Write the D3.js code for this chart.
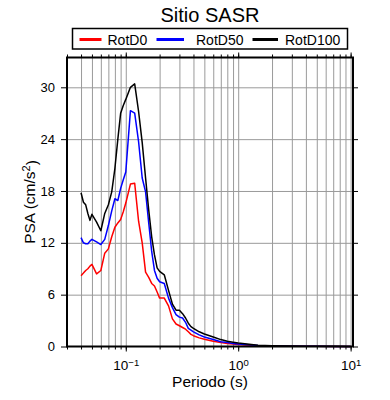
<!DOCTYPE html>
<html>
<head>
<meta charset="utf-8">
<script src="https://cdn.jsdelivr.net/npm/d3@7"></script>
<style>
  body { margin: 0; background: #fff; }
  svg { font-family: "Liberation Sans", Arial, Helvetica, sans-serif; }
</style>
</head>
<body>
<svg id="chart" width="390" height="400"></svg>
<script>
const periods = [0.04, 0.042, 0.044, 0.046, 0.048, 0.05, 0.055, 0.06, 0.065, 0.07, 0.075, 0.08,
  0.085, 0.09, 0.095, 0.1, 0.11, 0.12, 0.13, 0.14, 0.15, 0.16, 0.17, 0.18, 0.19, 0.2, 0.22,
  0.24, 0.26, 0.28, 0.3, 0.32, 0.34, 0.36, 0.38, 0.4, 0.45, 0.5, 0.6, 0.7, 0.8, 0.9, 1.0,
  1.5, 2, 3, 4, 5, 7.5, 10];

const rotD0 = [8.2, 8.5, 8.8, 9.0, 9.3, 9.5, 8.4, 8.8, 10.8, 11.3, 12.7, 13.8,
  14.3, 14.7, 15.6, 16.6, 18.8, 18.9, 14.5, 12.0, 8.6, 8.0, 7.3, 7.0, 6.3, 5.6, 5.6,
  4.7, 3.2, 2.6, 2.4, 2.2, 2.0, 1.7, 1.4, 1.25, 1.0, 0.85, 0.6, 0.45, 0.35, 0.28, 0.22,
  0.09, 0.05, 0.03, 0.02, 0.015, 0.01, 0.006];

const rotD50 = [12.6, 12.0, 11.9, 11.9, 12.2, 12.4, 12.1, 11.8, 12.4, 14.0, 15.7, 17.1,
  16.9, 18.3, 19.3, 20.2, 27.3, 27.0, 23.7, 19.5, 17.9, 14.3, 11.0, 8.8, 7.9, 7.5, 7.3,
  5.6, 4.5, 3.7, 3.4, 3.3, 2.8, 2.1, 1.9, 1.7, 1.35, 1.1, 0.8, 0.55, 0.45, 0.35, 0.3,
  0.12, 0.07, 0.04, 0.03, 0.02, 0.012, 0.008];

const rotD100 = [17.8, 16.7, 16.4, 15.4, 14.6, 15.3, 14.4, 13.4, 15.4, 16.4, 17.9, 20.6,
  24.0, 27.0, 27.9, 28.6, 30.0, 30.4, 27.2, 23.6, 19.5, 15.8, 12.7, 10.6, 9.1, 8.7, 8.3,
  6.5, 4.9, 4.2, 4.2, 3.8, 3.3, 2.7, 2.3, 2.1, 1.7, 1.45, 1.1, 0.8, 0.6, 0.5, 0.4,
  0.15, 0.09, 0.05, 0.03, 0.025, 0.015, 0.01];

const seriesNames = ['RotD0', 'RotD50', 'RotD100'];
const seriesColors = ['#ff0000', '#0000ff', '#000000'];
const yTicks = [0, 6, 12, 18, 24, 30];
const xMajor = [0.1, 1, 10];
const xExp = ['\u22121', '0', '1'];

const margin = { top: 57.5, right: 37, bottom: 53.5, left: 67 };
const width = 390;
const height = 400;
const innerW = width - margin.left - margin.right;
const innerH = height - margin.top - margin.bottom;

const svg = d3.select('#chart');
const g = svg.append('g').attr('transform', `translate(${margin.left},${margin.top})`);

const x = d3.scaleLog().domain([0.03, 10.5]).range([0, innerW]);
const y = d3.scaleLinear().domain([0, 33.45]).range([innerH, 0]);

// minor tick positions, every 1..9 per decade
const xMinor = [];
[0.01, 0.1, 1].forEach((dec) => {
  d3.range(1, 10).forEach((k) => {
    const v = +(dec * k).toPrecision(3);
    if (v >= 0.03 && v <= 10.5) xMinor.push(v);
  });
});
xMinor.push(10);

// grid
g.append('g')
  .attr('class', 'grid-x')
  .call(d3.axisBottom(x).tickValues(xMinor).tickSize(innerH).tickFormat(''))
  .call((s) => s.select('.domain').remove())
  .selectAll('line')
  .attr('stroke', '#9a9a9a')
  .attr('stroke-width', 1);

g.append('g')
  .attr('class', 'grid-y')
  .call(d3.axisLeft(y).tickValues(yTicks.slice(1)).tickSize(-innerW).tickFormat(''))
  .call((s) => s.select('.domain').remove())
  .selectAll('line')
  .attr('stroke', '#9a9a9a')
  .attr('stroke-width', 1);

// series
const line = d3.line()
  .x((d) => x(d[0]))
  .y((d) => y(d[1]));

[rotD0, rotD50, rotD100].forEach((vals, i) => {
  g.append('path')
    .datum(periods.map((p, j) => [p, vals[j]]))
    .attr('fill', 'none')
    .attr('stroke', seriesColors[i])
    .attr('stroke-width', 1.5)
    .attr('stroke-linejoin', 'round')
    .attr('d', line);
});

// axes ticks (outside)
const tickStyle = (s) => {
  s.select('.domain').remove();
  s.selectAll('line').attr('stroke', '#000').attr('stroke-width', 1);
};

g.append('g')
  .attr('transform', `translate(0,${innerH})`)
  .call(d3.axisBottom(x).tickValues(xMinor).tickSize(3).tickFormat(''))
  .call(tickStyle);

const xAxis = g.append('g')
  .attr('transform', `translate(0,${innerH})`)
  .call(d3.axisBottom(x).tickValues(xMajor).tickSize(5).tickPadding(9).tickFormat(''))
  .call(tickStyle);

xAxis.selectAll('.tick text')
  .attr('font-size', 13.5)
  .attr('fill', '#000')
  .attr('font-family', null)
  .each(function (d, i) {
    const t = d3.select(this);
    t.append('tspan').text('10');
    t.append('tspan').attr('dy', '-0.45em').attr('font-size', 9.5).text(xExp[i]);
  })
  .attr('text-anchor', 'middle');

g.append('g')
  .call(d3.axisTop(x).tickValues(xMinor).tickSize(3).tickFormat(''))
  .call(tickStyle);

g.append('g')
  .call(d3.axisTop(x).tickValues(xMajor).tickSize(5).tickFormat(''))
  .call(tickStyle);

const yAxis = g.append('g')
  .call(d3.axisLeft(y).tickValues(yTicks).tickSize(6).tickPadding(6))
  .call(tickStyle);

yAxis.selectAll('text')
  .attr('font-size', 13)
  .attr('font-family', null)
  .attr('fill', '#000');

g.append('g')
  .attr('transform', `translate(${innerW},0)`)
  .call(d3.axisRight(y).tickValues(yTicks).tickSize(5).tickFormat(''))
  .call(tickStyle);

// frame
g.append('rect')
  .attr('width', innerW)
  .attr('height', innerH)
  .attr('fill', 'none')
  .attr('stroke', '#000')
  .attr('stroke-width', 2);

// axis titles
svg.append('text')
  .attr('x', margin.left + innerW / 2)
  .attr('y', 387)
  .attr('text-anchor', 'middle')
  .attr('font-size', 15.5)
  .text('Periodo (s)');

const yLab = svg.append('text')
  .attr('transform', `translate(35,${margin.top + innerH / 2}) rotate(-90)`)
  .attr('text-anchor', 'middle')
  .attr('font-size', 15.5);
yLab.append('tspan').text('PSA (cm/s');
yLab.append('tspan').attr('dy', '-0.45em').attr('font-size', 11).text('2');
yLab.append('tspan').attr('dy', '0.45em').text(')');

// title
svg.append('text')
  .attr('x', 210)
  .attr('y', 22)
  .attr('text-anchor', 'middle')
  .attr('font-size', 20)
  .text('Sitio SASR');

// legend
const legend = svg.append('g');
legend.append('rect')
  .attr('x', 72.5)
  .attr('y', 28.5)
  .attr('width', 275)
  .attr('height', 20.5)
  .attr('fill', '#fff')
  .attr('stroke', '#000')
  .attr('stroke-width', 1.5);

const legendX = [79.5, 156.5, 252.5];
const legendLen = [22, 27.5, 25.5];
const legendTextX = [107.5, 196, 285];

seriesNames.forEach((name, i) => {
  legend.append('line')
    .attr('x1', legendX[i])
    .attr('x2', legendX[i] + legendLen[i])
    .attr('y1', 39.5)
    .attr('y2', 39.5)
    .attr('stroke', seriesColors[i])
    .attr('stroke-width', 3);
  legend.append('text')
    .attr('x', legendTextX[i])
    .attr('y', 44.5)
    .attr('font-size', 14)
    .text(name);
});
</script>
</body>
</html>
